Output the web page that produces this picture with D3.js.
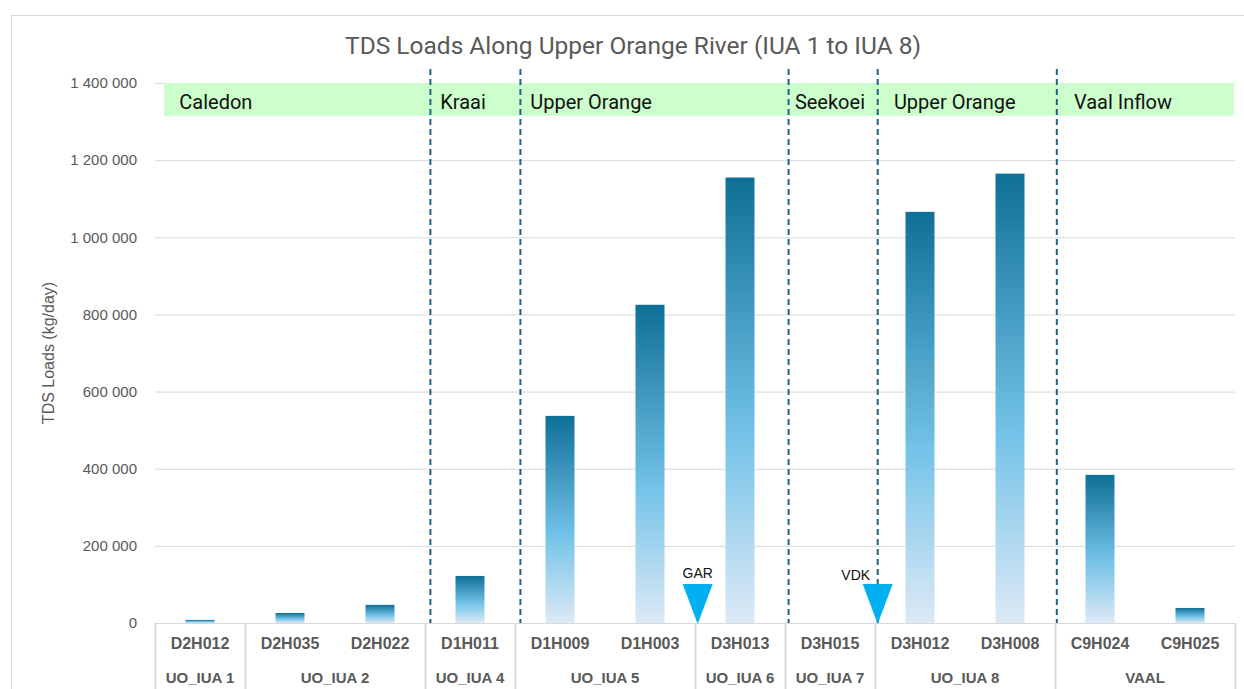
<!DOCTYPE html>
<html>
<head>
<meta charset="utf-8">
<script src="https://cdn.jsdelivr.net/npm/d3@7"></script>
<style>
  body { margin: 0; background: #fff; }
  svg { display: block; }
</style>
</head>
<body>
<div id="chart"></div>
<script>
// stations along the river, with their loads (kg/day)
var stations = ["D2H012","D2H035","D2H022","D1H011","D1H009","D1H003","D3H013","D3H015","D3H012","D3H008","C9H024","C9H025"];
var loads = [8000, 26000, 47000, 122000, 537000, 825000, 1155000, 0, 1066000, 1165000, 384000, 39000];

// IUA groups on the second axis row
var groupNames = ["UO_IUA 1","UO_IUA 2","UO_IUA 4","UO_IUA 5","UO_IUA 6","UO_IUA 7","UO_IUA 8","VAAL"];
var groupSizes = [1, 2, 1, 2, 1, 1, 2, 2];

// river reaches in the green band (position in station slots)
var reachNames = ["Caledon","Kraai","Upper Orange","Seekoei","Upper Orange","Vaal Inflow"];
var reachStart = [0.27, 3.17, 4.17, 7.11, 8.21, 10.21];
var reachDividers = [3.06, 4.06, 7.04, 8.03, 10.02];

// dams
var damNames = ["GAR","VDK"];
var damSlots = [6.03, 8.03];

var yTicks = [0, 200000, 400000, 600000, 800000, 1000000, 1200000, 1400000];

var W = 1244, H = 689;
var m = {left: 155, right: 1235, top: 83, bottom: 623};

var svg = d3.select("#chart").append("svg")
  .attr("width", W).attr("height", H);

// outer chart frame
svg.append("rect")
  .attr("x", 11.5).attr("y", 15.5)
  .attr("width", W + 20).attr("height", H + 20)
  .attr("fill", "#fff").attr("stroke", "#d9d9d9");

var x = d3.scaleBand().domain(stations).range([m.left, m.right]);
var slot = d3.scaleLinear().domain([0, stations.length]).range([m.left, m.right]);
var y = d3.scaleLinear().domain([0, 1400000]).range([m.bottom, m.top]);

var fmt = d3.formatLocale({decimal: ".", thousands: " ", grouping: [3], currency: ["", ""]}).format(",d");

// gridlines + y labels
var yAxis = svg.append("g")
  .attr("transform", "translate(" + m.left + ",0)")
  .call(d3.axisLeft(y).tickValues(yTicks).tickFormat(fmt).tickSize(-(m.right - m.left)).tickPadding(18));
yAxis.select(".domain").remove();
yAxis.selectAll(".tick line").attr("stroke", "#d9d9d9").attr("stroke-width", 1);
yAxis.selectAll(".tick text")
  .attr("fill", "#595959")
  .style("font-family", "'Liberation Sans', Arial, sans-serif")
  .style("font-size", "15px");

svg.append("text")
  .attr("transform", "translate(54," + ((m.top + m.bottom) / 2) + ") rotate(-90)")
  .attr("text-anchor", "middle")
  .attr("fill", "#595959")
  .style("font-family", "'Liberation Sans', Arial, sans-serif")
  .style("font-size", "16px")
  .text("TDS Loads (kg/day)");

// title
svg.append("text")
  .attr("x", 633).attr("y", 54)
  .attr("text-anchor", "middle")
  .attr("fill", "#595959")
  .style("font-family", "Roboto, sans-serif")
  .style("font-size", "24.5px")
  .text("TDS Loads Along Upper Orange River (IUA 1 to IUA 8)");

// green reach band
svg.append("rect")
  .attr("x", slot(0.1)).attr("y", y(1400000))
  .attr("width", m.right - 1 - slot(0.1)).attr("height", y(1315000) - y(1400000))
  .attr("fill", "#ccffcc");

svg.selectAll(".reach")
  .data(reachNames)
  .enter().append("text")
  .attr("class", "reach")
  .attr("x", function(d, i){ return slot(reachStart[i]); })
  .attr("y", 109)
  .attr("fill", "#111")
  .style("font-family", "Roboto, sans-serif")
  .style("font-size", "20px")
  .text(function(d){ return d; });

// bar gradient
var grad = svg.append("defs").append("linearGradient")
  .attr("id", "barGrad").attr("x1", 0).attr("y1", 0).attr("x2", 0).attr("y2", 1);
grad.append("stop").attr("offset", "0%").attr("stop-color", "#0e6f97");
grad.append("stop").attr("offset", "58%").attr("stop-color", "#74c3e8");
grad.append("stop").attr("offset", "100%").attr("stop-color", "#dde9f6");

var barW = 29;
svg.selectAll(".bar")
  .data(loads)
  .enter().append("rect")
  .attr("class", "bar")
  .attr("x", function(d, i){ return x(stations[i]) + x.bandwidth() / 2 - barW / 2; })
  .attr("y", function(d){ return y(d); })
  .attr("width", barW)
  .attr("height", function(d){ return y(0) - y(d); })
  .attr("fill", "url(#barGrad)");

// dashed reach dividers
svg.selectAll(".divider")
  .data(reachDividers)
  .enter().append("line")
  .attr("class", "divider")
  .attr("x1", function(d){ return slot(d); }).attr("x2", function(d){ return slot(d); })
  .attr("y1", 69).attr("y2", m.bottom)
  .attr("stroke", "#1f6384").attr("stroke-width", 2)
  .attr("stroke-dasharray", "6,4");

// category axis
svg.append("line")
  .attr("x1", m.left).attr("x2", m.right)
  .attr("y1", m.bottom + 0.5).attr("y2", m.bottom + 0.5)
  .attr("stroke", "#d9d9d9");

var xAxis = svg.append("g")
  .attr("transform", "translate(0," + m.bottom + ")")
  .call(d3.axisBottom(x).tickSize(0).tickPadding(15));
xAxis.select(".domain").remove();
xAxis.selectAll(".tick text")
  .attr("fill", "#595959")
  .style("font-family", "'Liberation Sans', Arial, sans-serif")
  .style("font-size", "16px")
  .style("font-weight", "bold");

var cum = 0;
var groups = groupNames.map(function(g, i){
  var s = cum; cum += groupSizes[i];
  return {name: g, start: s, end: cum};
});

svg.selectAll(".gsep")
  .data([0].concat(groups.map(function(g){ return g.end; })))
  .enter().append("line")
  .attr("class", "gsep")
  .attr("x1", function(d){ return Math.round(slot(d)) + 0.5; })
  .attr("x2", function(d){ return Math.round(slot(d)) + 0.5; })
  .attr("y1", m.bottom).attr("y2", H)
  .attr("stroke", "#d9d9d9").attr("stroke-width", 2);

svg.selectAll(".glabel")
  .data(groups)
  .enter().append("text")
  .attr("class", "glabel")
  .attr("x", function(d){ return slot((d.start + d.end) / 2); })
  .attr("y", 683)
  .attr("text-anchor", "middle")
  .attr("fill", "#595959")
  .style("font-family", "'Liberation Sans', Arial, sans-serif")
  .style("font-size", "15px")
  .style("font-weight", "bold")
  .text(function(d){ return d.name; });

// dam markers
var tri = 30;
svg.selectAll(".dam")
  .data(damNames)
  .enter().append("path")
  .attr("class", "dam")
  .attr("d", function(d, i){
    var cx = slot(damSlots[i]), cy = y(0) + 1;
    return "M" + (cx - tri / 2) + "," + (cy - 40) + "L" + (cx + tri / 2) + "," + (cy - 40) + "L" + cx + "," + cy + "Z";
  })
  .attr("fill", "#00b0f0");

svg.selectAll(".damlabel")
  .data(damNames)
  .enter().append("text")
  .attr("class", "damlabel")
  .attr("x", function(d, i){ return slot(damSlots[i]) + (i === 1 ? -22 : 0); })
  .attr("y", function(d, i){ return i === 1 ? 580 : 578; })
  .attr("text-anchor", "middle")
  .attr("fill", "#111")
  .style("font-family", "'Liberation Sans', Arial, sans-serif")
  .style("font-size", "14px")
  .text(function(d){ return d; });
</script>
</body>
</html>
